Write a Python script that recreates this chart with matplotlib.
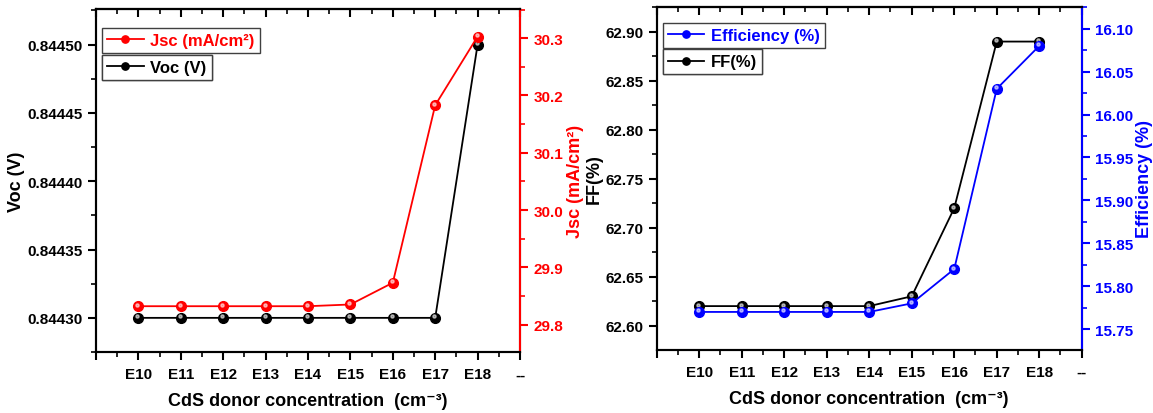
import numpy as np
import matplotlib
matplotlib.use("Agg")
import matplotlib.pyplot as plt
import matplotlib.transforms as mtrans
from matplotlib.ticker import MultipleLocator, FixedLocator, FormatStrFormatter

plt.rcParams['font.family'] = ['Liberation Sans', 'DejaVu Sans']
plt.rcParams['font.weight'] = 'bold'
plt.rcParams['axes.labelweight'] = 'bold'

# data
conc_labels = ['E10', 'E11', 'E12', 'E13', 'E14', 'E15', 'E16', 'E17', 'E18']
voc = [0.84430, 0.84430, 0.84430, 0.84430, 0.84430, 0.84430, 0.84430, 0.84430, 0.84450]
jsc = [29.832, 29.832, 29.832, 29.832, 29.832, 29.835, 29.873, 30.183, 30.303]
ff = [62.62, 62.62, 62.62, 62.62, 62.62, 62.63, 62.72, 62.89, 62.89]
eff = [15.770, 15.770, 15.770, 15.770, 15.770, 15.780, 15.820, 16.030, 16.080]
xtick_labels = [''] + conc_labels + ['--']

x = np.arange(1, len(conc_labels) + 1)

fig = plt.figure(figsize=(11.53, 4.14), dpi=100)
ax1 = fig.add_axes([0.0833, 0.1473, 0.3677, 0.8285])
ax3 = fig.add_axes([0.5696, 0.1529, 0.3686, 0.8271])


def style_x(ax):
    ax.set_xlim(0, 10)
    ax.xaxis.set_major_locator(FixedLocator(range(0, 11)))
    ax.set_xticklabels(xtick_labels)
    ax.xaxis.set_minor_locator(MultipleLocator(0.5))
    ax.tick_params(axis='x', which='major', direction='out', length=6, width=1.5,
                   labelsize=11, pad=5)
    ax.tick_params(axis='x', which='minor', direction='out', length=3.5, width=1.2)
    ax.set_xlabel('CdS donor concentration  (cm⁻³)', fontsize=13, labelpad=8)
    # inward ticks on the top spine
    top = ax.secondary_xaxis('top')
    top.xaxis.set_major_locator(FixedLocator(range(0, 11)))
    top.xaxis.set_minor_locator(MultipleLocator(0.5))
    top.tick_params(which='major', direction='in', length=6, width=1.5, labeltop=False)
    top.tick_params(which='minor', direction='in', length=3.5, width=1.2)
    top.spines['top'].set_linewidth(1.5)


def style_spines(ax):
    for s in ax.spines.values():
        s.set_linewidth(1.5)


def highlight(ax, ys):
    # small light dot so the markers look like shaded spheres
    ax.plot(x, ys, 'o', ms=2.3, color='white', alpha=0.55, zorder=4,
            transform=ax.transData + mtrans.ScaledTranslation(-0.01, 0.015, fig.dpi_scale_trans))


def box_legend(ax, handle, text, anchor, color):
    lg = ax.legend([handle], [text], loc='upper left', bbox_to_anchor=anchor,
                   fancybox=False, edgecolor='#404040', fontsize=12, handlelength=2.2,
                   borderpad=0.3, handletextpad=0.4, borderaxespad=0.1, markerscale=0.75)
    for t in lg.get_texts():
        t.set_color(color)
    lg.get_frame().set_linewidth(1.0)
    lg.get_frame().set_alpha(1)
    ax.add_artist(lg)
    return lg


# ----- left panel: Voc and Jsc -----
l_voc, = ax1.plot(x, voc, '-o', color='black', lw=1.3, ms=7, zorder=3)
ax1.set_ylim(0.844275, 0.844526)
ax1.yaxis.set_major_locator(MultipleLocator(0.00005))
ax1.yaxis.set_minor_locator(MultipleLocator(0.000025))
ax1.yaxis.set_major_formatter(FormatStrFormatter('%.5f'))
ax1.tick_params(axis='y', which='major', direction='out', length=6, width=1.5, labelsize=11)
ax1.tick_params(axis='y', which='minor', direction='out', length=3.5, width=1.2)
ax1.set_ylabel('Voc (V)', fontsize=13, labelpad=2)
style_x(ax1)
style_spines(ax1)
highlight(ax1, voc)

ax2 = ax1.twinx()
l_jsc, = ax2.plot(x, jsc, '-o', color='red', lw=1.3, ms=7, zorder=3)
ax2.set_ylim(29.752, 30.351)
ax2.yaxis.set_major_locator(MultipleLocator(0.1))
ax2.yaxis.set_minor_locator(MultipleLocator(0.05))
ax2.yaxis.set_major_formatter(FormatStrFormatter('%.1f'))
ax2.tick_params(axis='y', which='major', direction='out', length=6, width=1.5,
                labelsize=11, colors='red')
ax2.tick_params(axis='y', which='minor', direction='out', length=3.5, width=1.2, colors='red')
ax2.set_ylabel('Jsc (mA/cm²)', fontsize=13, color='red', labelpad=3)
style_spines(ax2)
ax2.spines['right'].set_color('red')
highlight(ax2, jsc)

box_legend(ax2, l_jsc, 'Jsc (mA/cm²)', (0.01, 0.95), 'red')
box_legend(ax2, l_voc, 'Voc (V)', (0.01, 0.872), 'black')

# ----- right panel: FF and Efficiency -----
l_ff, = ax3.plot(x, ff, '-o', color='black', lw=1.3, ms=7, zorder=3)
ax3.set_ylim(62.5755, 62.925)
ax3.yaxis.set_major_locator(MultipleLocator(0.05))
ax3.yaxis.set_minor_locator(MultipleLocator(0.025))
ax3.yaxis.set_major_formatter(FormatStrFormatter('%.2f'))
ax3.tick_params(axis='y', which='major', direction='out', length=6, width=1.5, labelsize=11)
ax3.tick_params(axis='y', which='minor', direction='out', length=3.5, width=1.2)
ax3.set_ylabel('FF(%)', fontsize=13, labelpad=2)
style_x(ax3)
style_spines(ax3)
highlight(ax3, ff)

ax4 = ax3.twinx()
l_eff, = ax4.plot(x, eff, '-o', color='blue', lw=1.3, ms=7, zorder=3)
ax4.set_ylim(15.726, 16.125)
ax4.yaxis.set_major_locator(MultipleLocator(0.05))
ax4.yaxis.set_minor_locator(MultipleLocator(0.025))
ax4.yaxis.set_major_formatter(FormatStrFormatter('%.2f'))
ax4.tick_params(axis='y', which='major', direction='out', length=6, width=1.5,
                labelsize=11, colors='blue')
ax4.tick_params(axis='y', which='minor', direction='out', length=3.5, width=1.2, colors='blue')
ax4.set_ylabel('Efficiency (%)', fontsize=13, color='blue', labelpad=2)
style_spines(ax4)
ax4.spines['right'].set_color('blue')
highlight(ax4, eff)

box_legend(ax4, l_eff, 'Efficiency (%)', (0.01, 0.96), 'blue')
box_legend(ax4, l_ff, 'FF(%)', (0.01, 0.882), 'black')

fig.savefig('out.png', dpi=100)
